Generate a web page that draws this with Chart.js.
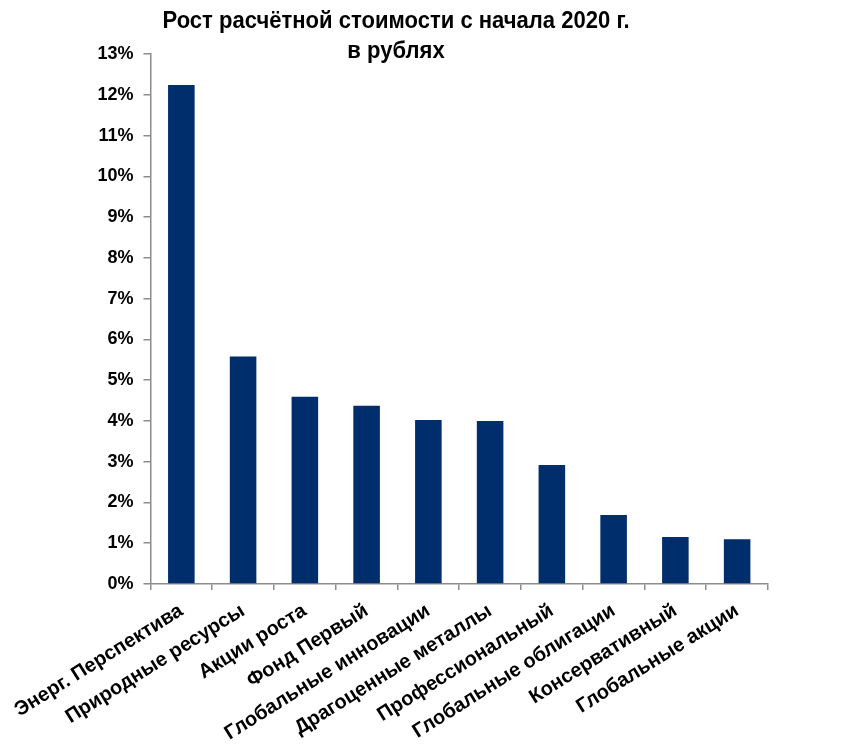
<!DOCTYPE html>
<html>
<head>
<meta charset="utf-8">
<script src="https://cdn.jsdelivr.net/npm/chart.js@4.4.1/dist/chart.umd.min.js"></script>
<style>
  html, body { margin: 0; padding: 0; background: #fff; }
  #wrap { width: 845px; height: 750px; }
</style>
</head>
<body>
<div id="wrap"><canvas id="chart"></canvas></div>
<script>
const titleLines = ['Рост расчётной стоимости с начала 2020 г.', 'в рублях'];
const funds = [
  'Энерг. Перспектива',
  'Природные ресурсы',
  'Акции роста',
  'Фонд Первый',
  'Глобальные инновации',
  'Драгоценные металлы',
  'Профессиональный',
  'Глобальные облигации',
  'Консервативный',
  'Глобальные акции'
];
const growth = [12.24, 5.58, 4.59, 4.37, 4.02, 4.00, 2.92, 1.69, 1.15, 1.10];
const yMin = 0;
const yMax = 13;
const yStep = 1;

const FONT = "'Liberation Sans', Arial, sans-serif";
const AXIS_GREY = '#8c8c8c';

// Title drawn by hand: the original is centred left of the canvas middle and a bit condensed
const titlePlugin = {
  id: 'sketchTitle',
  afterDraw(chart) {
    const ctx = chart.ctx;
    ctx.save();
    ctx.font = `bold 24px ${FONT}`;
    ctx.fillStyle = '#000';
    ctx.textAlign = 'center';
    ctx.textBaseline = 'alphabetic';
    const sx = 467 / ctx.measureText(titleLines[0]).width;
    ctx.translate(396, 0);
    ctx.scale(sx, 1);
    ctx.fillText(titleLines[0], 0, 28);
    ctx.fillText(titleLines[1], 0, 58);
    ctx.restore();
  }
};

new Chart(document.getElementById('chart'), {
  type: 'bar',
  data: {
    labels: funds,
    datasets: [{
      data: growth,
      backgroundColor: '#002D6B',
      borderWidth: 0,
      barPercentage: 0.43,
      categoryPercentage: 1
    }]
  },
  options: {
    responsive: true,
    maintainAspectRatio: false,
    animation: false,
    layout: {
      padding: { left: 95, right: 77, top: 54, bottom: 6 }
    },
    plugins: {
      legend: { display: false },
      tooltip: { enabled: false },
      title: { display: false }
    },
    scales: {
      x: {
        afterFit(scale) { scale.height = 160; },
        border: { display: true, color: AXIS_GREY, width: 1.5 },
        grid: {
          offset: true,
          drawOnChartArea: false,
          drawTicks: true,
          tickLength: 6,
          color: AXIS_GREY,
          lineWidth: 1.5
        },
        ticks: {
          autoSkip: false,
          minRotation: 32,
          maxRotation: 32,
          padding: 9,
          color: '#000',
          font: { family: FONT, size: 20, weight: 'bold' }
        }
      },
      y: {
        min: yMin,
        max: yMax,
        afterFit(scale) { scale.width = 55; },
        border: { display: true, color: AXIS_GREY, width: 1.5 },
        grid: {
          drawOnChartArea: false,
          drawTicks: true,
          tickLength: 7,
          color: AXIS_GREY,
          lineWidth: 1.5
        },
        ticks: {
          stepSize: yStep,
          padding: 10,
          color: '#000',
          font: { family: FONT, size: 18, weight: 'bold' },
          callback: v => v + '%'
        }
      }
    }
  },
  plugins: [titlePlugin]
});
</script>
</body>
</html>
